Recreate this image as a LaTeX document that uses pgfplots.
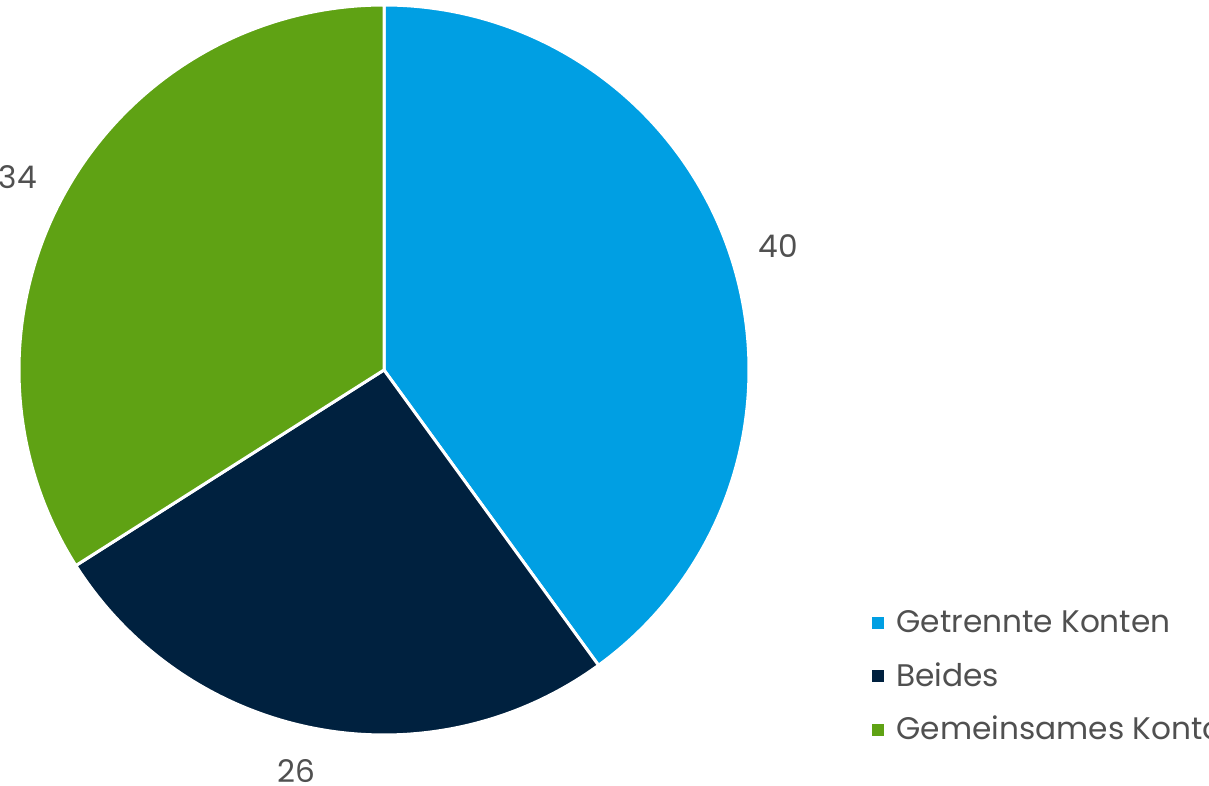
\documentclass[border=0pt]{standalone}
\usepackage{pgfplots}
\usepackage{pgfplotstable}
\pgfplotsset{compat=1.18}
\usepackage{fontspec}
\setmainfont{Poppins}
\definecolor{cblue}{HTML}{009FE3}
\definecolor{cnavy}{HTML}{00213F}
\definecolor{cgreen}{HTML}{5FA214}
\definecolor{ctext}{HTML}{505050}
\pgfplotstableread{
label value
{Getrennte Konten} 40
Beides 26
{Gemeinsames Konto} 34
}\piedata
\begin{document}
\begin{tikzpicture}
\pgfplotstablegetelem{0}{value}\of\piedata \let\va\pgfplotsretval
\pgfplotstablegetelem{1}{value}\of\piedata \let\vb\pgfplotsretval
\pgfplotstablegetelem{2}{value}\of\piedata \let\vc\pgfplotsretval
\pgfmathsetmacro\azero{90}
\pgfmathsetmacro\aone{\azero-3.6*\va}
\pgfmathsetmacro\atwo{\aone-3.6*\vb}
\pgfmathsetmacro\athree{\atwo-3.6*\vc}
\begin{axis}[
  width=604.5pt, height=393pt, scale only axis,
  xmin=0, xmax=1209, ymin=0, ymax=786,
  hide axis, clip=false,
  legend cell align=left,
  legend image code/.code={\fill[#1, draw=none] (0pt,-3pt) rectangle (6pt,3pt);},
  legend style={at={(axis cs:872,180)}, anchor=north west, draw=none, fill=none,
    font=\fontsize{15.6}{18}\selectfont\color{ctext}, row sep=9.5pt,
    inner sep=0pt, nodes={inner xsep=6pt}},
]
\addplot[fill=cblue, draw=white, line width=1.5pt, domain=\aone:\azero, samples=150]
  ({384+365*cos(x)},{416+365*sin(x)}) -- (axis cs:384,416) -- cycle;
\addlegendentry{Getrennte Konten}
\addplot[fill=cnavy, draw=white, line width=1.5pt, domain=\atwo:\aone, samples=120]
  ({384+365*cos(x)},{416+365*sin(x)}) -- (axis cs:384,416) -- cycle;
\addlegendentry{Beides}
\addplot[fill=cgreen, draw=white, line width=1.5pt, domain=\athree:\atwo, samples=150]
  ({384+365*cos(x)},{416+365*sin(x)}) -- (axis cs:384,416) -- cycle;
\addlegendentry{Gemeinsames Konto}
\node[font=\fontsize{15.6}{18}\selectfont, text=ctext] at (axis cs:778,540) {40};
\node[font=\fontsize{15.6}{18}\selectfont, text=ctext] at (axis cs:296,15) {26};
\node[font=\fontsize{15.6}{18}\selectfont, text=ctext] at (axis cs:18,609) {34};
\coordinate (ll) at (axis cs:0,0);
\coordinate (ur) at (axis cs:1209,786);
\end{axis}
\pgfresetboundingbox
\path[use as bounding box] (ll) rectangle (ur);
\end{tikzpicture}
\end{document}
